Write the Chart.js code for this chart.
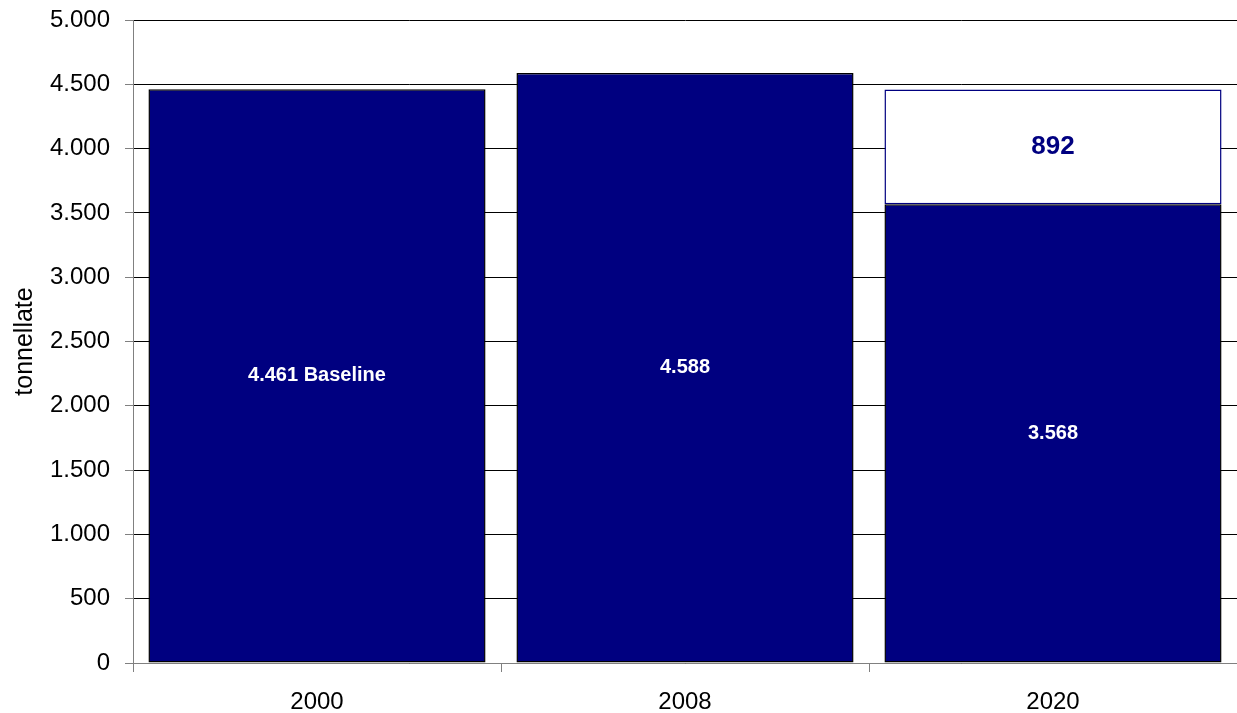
<!DOCTYPE html>
<html>
<head>
<meta charset="utf-8">
<script src="https://cdn.jsdelivr.net/npm/chart.js@4/dist/chart.umd.min.js"></script>
<style>
  html, body { margin: 0; padding: 0; background: #ffffff; }
  #wrap { width: 1237px; height: 713px; }
</style>
</head>
<body>
<div id="wrap"><canvas id="c" width="1237" height="713"></canvas></div>
<script>
// Anni e tonnellate
const years = ['2000', '2008', '2020'];
const emissions = [4461, 4588, 3568];
const reduction = [null, null, 892];
const emissionNotes = [' Baseline', '', ''];
const yTicks = [0, 500, 1000, 1500, 2000, 2500, 3000, 3500, 4000, 4500, 5000];

const NAVY = '#000080';
const FONT = '"Liberation Sans", Arial, sans-serif';

// Formatta con il punto come separatore delle migliaia
function fmt(v) {
  return String(Math.round(v)).replace(/\B(?=(\d{3})+(?!\d))/g, '.');
}

// Etichette al centro di ogni barra
const barLabels = {
  id: 'barLabels',
  afterDatasetsDraw(chart) {
    const ctx = chart.ctx;
    ctx.save();
    ctx.textAlign = 'center';
    ctx.textBaseline = 'middle';
    chart.data.datasets.forEach((ds, di) => {
      const meta = chart.getDatasetMeta(di);
      meta.data.forEach((bar, i) => {
        const v = ds.data[i];
        if (v == null) return;
        const props = bar.getProps(['x', 'y', 'base'], true);
        const cy = (props.y + props.base) / 2;
        if (di === 0) {
          ctx.fillStyle = '#ffffff';
          ctx.font = 'bold 20px ' + FONT;
          ctx.fillText(fmt(v) + emissionNotes[i], props.x, cy);
        } else {
          ctx.fillStyle = NAVY;
          ctx.font = 'bold 26px ' + FONT;
          ctx.fillText(fmt(v), props.x, cy);
        }
      });
    });
    ctx.restore();
  }
};

new Chart(document.getElementById('c'), {
  type: 'bar',
  data: {
    labels: years,
    datasets: [
      {
        data: emissions,
        backgroundColor: NAVY,
        borderColor: '#000000',
        borderWidth: 1.5,
        borderSkipped: false,
        barPercentage: 0.916,
        categoryPercentage: 1.0
      },
      {
        data: reduction,
        backgroundColor: '#ffffff',
        borderColor: NAVY,
        borderWidth: 1.5,
        borderSkipped: false,
        barPercentage: 0.916,
        categoryPercentage: 1.0
      }
    ]
  },
  options: {
    responsive: false,
    animation: false,
    devicePixelRatio: 1,
    layout: { padding: { top: 20, right: 0, left: 0, bottom: 0 } },
    plugins: {
      legend: { display: false },
      tooltip: { enabled: false }
    },
    scales: {
      x: {
        stacked: true,
        offset: true,
        grid: {
          display: true,
          drawOnChartArea: false,
          drawTicks: true,
          tickLength: 9,
          tickColor: '#808080',
          offset: true
        },
        border: { display: true, color: '#808080', width: 1 },
        ticks: {
          color: '#000000',
          font: { family: FONT, size: 24 },
          padding: 16,
          maxRotation: 0
        },
        afterFit(scale) { scale.height = 50; }
      },
      y: {
        stacked: true,
        min: 0,
        max: 5000,
        afterBuildTicks(scale) {
          scale.ticks = yTicks.map(v => ({ value: v }));
        },
        grid: {
          color: '#000000',
          lineWidth: 1,
          drawTicks: true,
          tickLength: 8,
          tickColor: '#808080'
        },
        border: { display: true, color: '#808080', width: 1 },
        ticks: {
          color: '#000000',
          font: { family: FONT, size: 24 },
          padding: 15,
          callback: v => fmt(v)
        },
        title: {
          display: true,
          text: 'tonnellate',
          color: '#000000',
          font: { family: FONT, size: 25 },
          padding: { top: 10, bottom: 0 }
        },
        afterFit(scale) {
          scale.width = 133;
          scale.paddingTop = 0;
          scale.paddingBottom = 0;
        }
      }
    }
  },
  plugins: [barLabels]
});
</script>
</body>
</html>
